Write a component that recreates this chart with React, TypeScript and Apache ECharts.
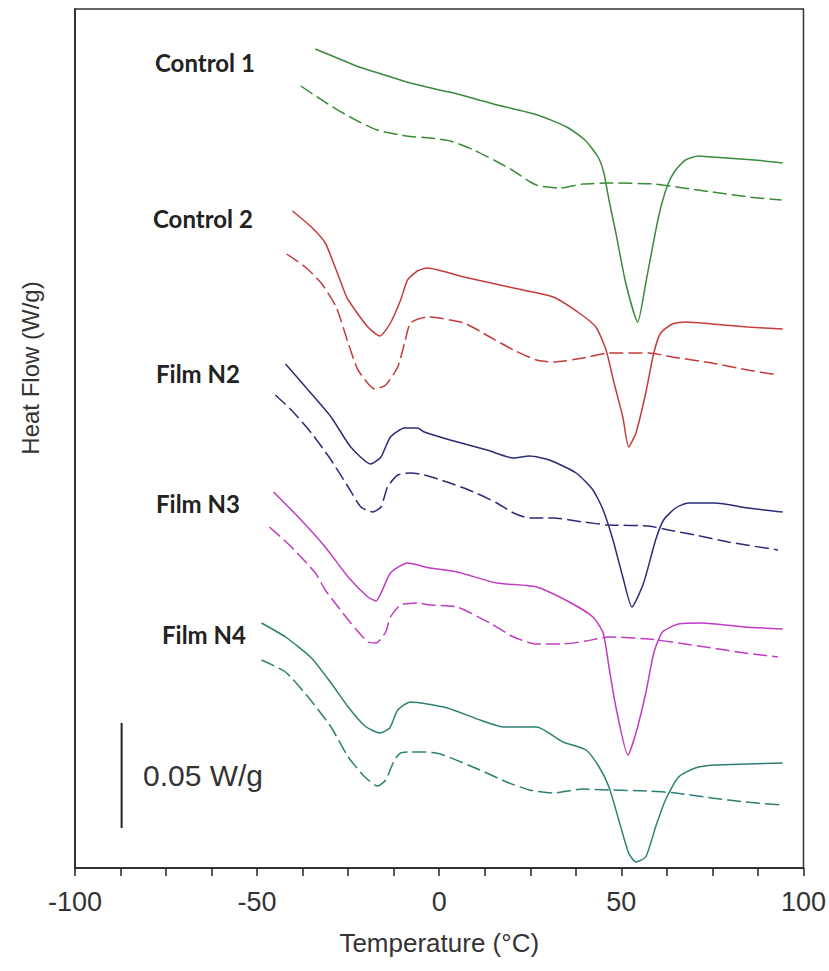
import { useEffect, useRef } from 'react';
import * as echarts from 'echarts';

// Temperature (°C) vs heat flow (arbitrary offset units, 105 units = 0.05 W/g)
const xTickLabels = [-100, -50, 0, 50, 100];

const control1Solid = [
  [-34, 819], [-28, 810], [-22, 801], [-15, 793], [-9, 786], [0, 778], [5, 774], [16, 763],
  [27, 753], [35, 741], [40, 728], [43.6, 711], [45.2, 695], [46.6, 668], [48.5, 635], [51.2, 585],
  [54.5, 546], [56.7, 585], [60.2, 651], [62.7, 683], [64.9, 698], [67.6, 708], [71.1, 712],
  [74.9, 711], [86.6, 708], [94.3, 705],
];
const control1Dashed = [
  [-38, 782], [-31, 765], [-24, 750], [-17, 738], [-9, 732], [-2.5, 730], [3, 727], [9.5, 718],
  [16, 706], [20, 698], [25, 686], [27.5, 682], [33, 680], [39.5, 684], [47, 685], [59, 684],
  [67, 680], [75, 676], [85, 671], [94, 668],
];
const control2Solid = [
  [-40.3, 657], [-35.1, 641], [-31.3, 625], [-28.6, 601], [-25.9, 575], [-25, 568], [-19.6, 541],
  [-16.3, 532], [-13.4, 545], [-10.6, 568], [-8.7, 588], [-6, 597], [-3.3, 600], [6.8, 591], [20.4, 580],
  [31.3, 571], [38.4, 555], [43, 541], [45.8, 518], [48, 485], [50.4, 451], [52, 421], [54, 435],
  [56.7, 475], [58.9, 515], [60.8, 535], [64, 544], [67.6, 546], [74.9, 544], [84.7, 541], [94.3, 539],
];
const control2Dashed = [
  [-41.9, 614], [-36.8, 601], [-32.4, 585], [-28.3, 561], [-25, 525], [-22.3, 498], [-17.7, 479],
  [-14.7, 483], [-11.4, 501], [-9.5, 525], [-7.9, 545], [-3.3, 551], [6.8, 545], [13.9, 531],
  [20.4, 518], [26.7, 508], [31.3, 506], [39.5, 510], [46.6, 515], [57.5, 515], [64, 511],
  [74.9, 505], [84.7, 498], [93, 493],
];
const filmN2Solid = [
  [-42.2, 504], [-36, 478], [-29.7, 451], [-24.3, 421], [-18.8, 404], [-16, 411], [-13.4, 431],
  [-9.5, 440], [-6, 440], [-4.1, 436], [3, 428], [13.1, 418], [20.4, 410], [24.8, 412], [30.2, 408],
  [37.6, 395], [42.2, 378], [45, 358], [47.7, 328], [50.4, 291], [52.9, 261], [56.1, 285],
  [59.4, 328], [61.6, 348], [64.9, 360], [68.4, 365], [75.7, 365], [84.7, 360], [94.3, 356],
];
const filmN2Dashed = [
  [-45, 473], [-40.6, 458], [-35.1, 435], [-29.7, 408], [-25, 381], [-21.5, 361], [-18.3, 356],
  [-16, 361], [-14.2, 381], [-11.4, 393], [-7.9, 395], [-4.1, 393], [2.2, 386], [9.5, 376],
  [15.8, 365], [20.4, 355], [24.8, 350], [31.3, 350], [39.5, 346], [46.6, 343], [57.5, 342],
  [62.9, 338], [70.3, 333], [79.3, 326], [93, 318],
];
const filmN3Solid = [
  [-45.5, 376], [-38.7, 351], [-31.3, 321], [-25, 291], [-19.6, 271], [-17.4, 267], [-13.4, 295],
  [-8.7, 305], [-2.5, 300], [4.9, 296], [15.8, 285], [26.7, 281], [35.7, 266], [42.2, 251],
  [45, 235], [46.6, 201], [48.5, 161], [51.8, 113], [54, 135], [56.7, 175], [58.9, 215],
  [61.3, 236], [65.7, 244], [72.2, 245], [83.9, 241], [94.3, 239],
];
const filmN3Dashed = [
  [-46.6, 341], [-40.6, 321], [-34, 295], [-31.3, 278], [-28.6, 265], [-24.3, 245], [-19.6, 226],
  [-17.4, 225], [-14.7, 236], [-13.4, 251], [-10.6, 263], [-6, 265], [-2.5, 263], [4.9, 261],
  [13.9, 245], [20.4, 231], [26.7, 224], [34, 224], [40.3, 227], [46.6, 231], [57.5, 229],
  [65.7, 225], [74.9, 220], [83.9, 215], [93, 211],
];
const filmN4Solid = [
  [-48.8, 245], [-42.2, 231], [-35.1, 210], [-29.7, 185], [-25, 161], [-20.4, 142], [-16.3, 135],
  [-13.6, 140], [-11.4, 158], [-7.9, 166], [2.2, 160], [11.2, 148], [17.7, 141], [26.7, 141],
  [34, 126], [40.3, 118], [43.9, 101], [46.6, 81], [49.3, 48], [52, 15], [54, 6], [56.7, 11],
  [59.4, 41], [62.1, 68], [65.7, 91], [70.3, 100], [75.7, 103], [84.7, 104], [94.3, 105],
];
const filmN4Dashed = [
  [-48.8, 208], [-42.2, 196], [-36, 171], [-29.7, 141], [-25, 111], [-20.4, 91], [-16.9, 82],
  [-14.7, 88], [-12.3, 108], [-10.6, 115], [-7.9, 116], [-4.1, 116], [0.3, 114], [11.2, 98],
  [18.5, 86], [24.8, 78], [31.3, 75], [39.5, 79], [46.6, 78], [57.5, 77], [64.9, 75], [74.9, 70],
  [83.9, 66], [94, 63],
];
const scaleBar = [[-87.2, 40], [-87.2, 145]];

const sampleNames = ['Control 1', 'Control 2', 'Film N2', 'Film N3', 'Film N4'];
const sampleColors = ['#3a8a3a', '#c43c3c', '#2b2b78', '#c03cc0', '#2d8074'];
const solidData = [control1Solid, control2Solid, filmN2Solid, filmN3Solid, filmN4Solid];
const dashedData = [control1Dashed, control2Dashed, filmN2Dashed, filmN3Dashed, filmN4Dashed];

export default function App() {
  const ref = useRef<HTMLDivElement>(null);
  useEffect(() => {
    const chart = echarts.init(ref.current!, null, { renderer: 'svg' });
    const series: any[] = [];
    sampleNames.forEach((name, i) => {
      series.push({
        name: name + ' (1st)', type: 'line', data: solidData[i], showSymbol: false, symbol: 'none',
        smooth: 0.2, lineStyle: { color: sampleColors[i], width: 1.5 },
      });
      series.push({
        name: name + ' (2nd)', type: 'line', data: dashedData[i], showSymbol: false, symbol: 'none',
        smooth: 0.2, lineStyle: { color: sampleColors[i], width: 1.5, type: [14, 5] },
      });
    });
    series.push({
      name: 'scale', type: 'line', data: scaleBar, symbol: 'none', silent: true,
      lineStyle: { color: '#222', width: 2 },
    });
    const labelPos = [[155, 62], [153, 218], [156, 373], [156, 503], [162, 634]];
    chart.setOption({
      animation: false,
      grid: { left: 75, right: 20, top: 9, bottom: 103, show: true, borderColor: '#333', borderWidth: 1.5 },
      xAxis: {
        type: 'value', min: -100, max: 100, interval: 50,
        name: 'Temperature (°C)', nameLocation: 'middle', nameGap: 62,
        nameTextStyle: { fontFamily: 'Liberation Sans', fontSize: 26, color: '#333' },
        axisLine: { show: true, onZero: false, lineStyle: { color: '#222', width: 1.5 } },
        axisTick: { show: true, length: 8, lineStyle: { color: '#222', width: 1.5 } },
        minorTick: { show: true, splitNumber: 4, length: 8, lineStyle: { color: '#222', width: 1.5 } },
        splitLine: { show: false },
        axisLabel: {
          fontFamily: 'Liberation Sans', fontSize: 27, color: '#333', margin: 20,
          formatter: (v: number) => (xTickLabels.includes(v) ? String(v) : ''),
        },
      },
      yAxis: {
        type: 'value', min: 0, max: 859,
        axisLine: { show: true, onZero: false, lineStyle: { color: '#222', width: 1.5 } },
        axisTick: { show: false }, axisLabel: { show: false }, splitLine: { show: false },
      },
      series,
      graphic: [
        ...sampleNames.map((n, i) => ({
          type: 'text', x: labelPos[i][0], y: labelPos[i][1],
          style: { text: n, fontFamily: 'Lato', fontWeight: 'bold', fontSize: 24, fill: '#222', textVerticalAlign: 'middle', textAlign: 'left' },
        })),
        {
          type: 'text', x: 143, y: 775,
          style: { text: '0.05 W/g', fontFamily: 'Liberation Sans', fontSize: 30, fill: '#333', textVerticalAlign: 'middle', textAlign: 'left' },
        },
        {
          type: 'text', x: 30, y: 368, rotation: Math.PI / 2,
          style: { text: 'Heat Flow (W/g)', fontFamily: 'Liberation Sans', fontSize: 24, fill: '#333', textVerticalAlign: 'middle', textAlign: 'center' },
        },
      ],
    });
    return () => chart.dispose();
  }, []);
  return <div ref={ref} style={{ position: 'absolute', left: 0, top: 0, width: 829, height: 971 }} />;
}
